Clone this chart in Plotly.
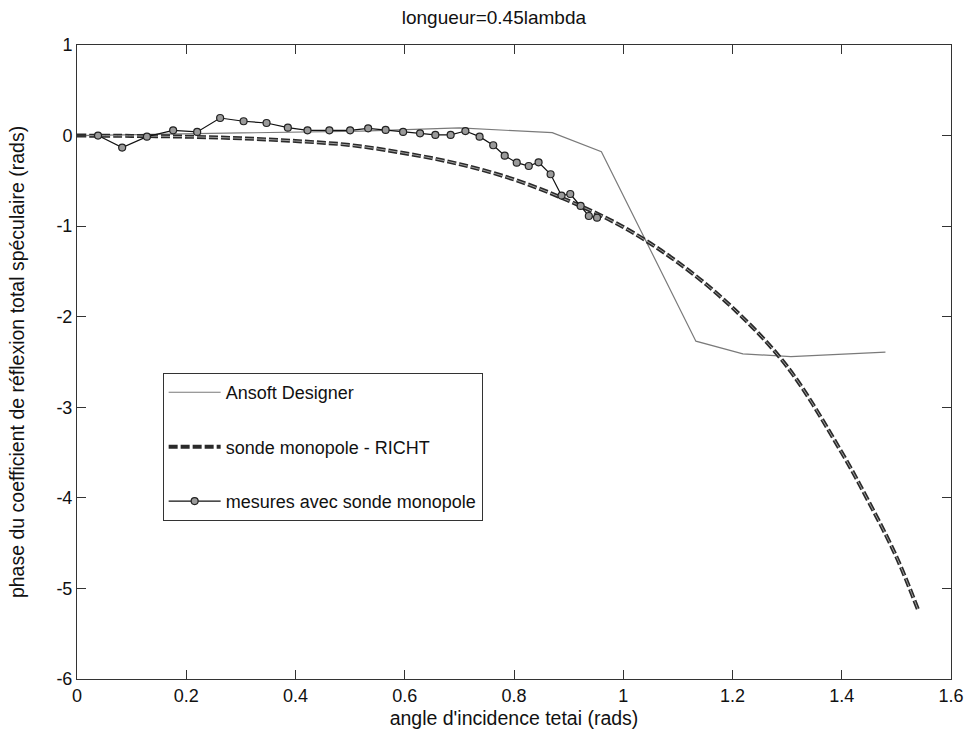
import plotly.graph_objects as go

# Ansoft Designer (thin grey solid)
ansoft_x = [0.0, 0.35, 0.52, 0.70, 0.870, 0.960, 1.133, 1.219, 1.307, 1.480]
ansoft_y = [0.0, 0.03, 0.05, 0.085, 0.032, -0.178, -2.27, -2.41, -2.44, -2.39]

# sonde monopole - RICHT (thick dashed)
richt_x = [0.0, 0.10, 0.20, 0.30, 0.40, 0.50, 0.60, 0.70, 0.80, 0.90, 1.00,
           1.10, 1.20, 1.30, 1.40, 1.45, 1.50, 1.54]
richt_y = [0.0, -0.004, -0.012, -0.030, -0.060, -0.105, -0.195, -0.315, -0.485,
           -0.720, -1.01, -1.40, -1.90, -2.55, -3.50, -4.05, -4.65, -5.24]

# mesures avec sonde monopole (line + circle markers)
meas_x = [0.0385, 0.0827, 0.128, 0.176, 0.220, 0.262, 0.305, 0.347, 0.386, 0.422,
          0.462, 0.500, 0.533, 0.565, 0.597, 0.628, 0.656, 0.684, 0.711, 0.737,
          0.762, 0.783, 0.805, 0.827, 0.845, 0.867, 0.887, 0.903, 0.922, 0.937, 0.952]
meas_y = [0.0, -0.133, -0.012, 0.058, 0.04, 0.194, 0.158, 0.139, 0.087, 0.058,
          0.058, 0.058, 0.08, 0.062, 0.04, 0.025, 0.007, 0.007, 0.05, -0.012,
          -0.107, -0.222, -0.299, -0.336, -0.295, -0.427, -0.663, -0.645, -0.777,
          -0.888, -0.906]

names = ["Ansoft Designer", "sonde monopole - RICHT", "mesures avec sonde monopole"]

FONT = "Liberation Sans, Arial, sans-serif"
INK = "#111111"

fig = go.Figure()
fig.add_trace(go.Scatter(x=ansoft_x, y=ansoft_y, mode="lines", name=names[0],
                         legendgroup="a",
                         line=dict(color="#7a7a7a", width=1.2)))
fig.add_trace(go.Scatter(x=richt_x, y=richt_y, mode="lines", name=names[1],
                         legendgroup="b",
                         line=dict(color="#2a2a2a", width=4, dash="9px,3px", shape="spline")))
fig.add_trace(go.Scatter(x=richt_x, y=richt_y, mode="lines", showlegend=False,
                         legendgroup="b", hoverinfo="skip",
                         line=dict(color="#a0a0a0", width=1, dash="9px,3px", shape="spline")))
fig.add_trace(go.Scatter(x=meas_x, y=meas_y, mode="lines+markers", name=names[2],
                         legendgroup="c",
                         line=dict(color=INK, width=1.2),
                         marker=dict(symbol="circle", size=7, color="#9a9a9a",
                                     line=dict(color="#222222", width=1.2))))

axis_common = dict(
    showline=True, linecolor="#333333", linewidth=1, mirror="ticks",
    ticks="inside", ticklen=9, tickcolor="#333333", tickwidth=1,
    showgrid=False, zeroline=False,
    tickfont=dict(family=FONT, size=18, color=INK),
)

fig.update_layout(
    width=976, height=743,
    margin=dict(l=77, r=22, t=45, b=64),
    paper_bgcolor="white", plot_bgcolor="white",
    title=dict(text="longueur=0.45lambda", xref="paper", x=0.477, xanchor="center",
               yref="container", y=0.977, yanchor="middle",
               font=dict(family=FONT, size=19, color=INK)),
    xaxis=dict(range=[0, 1.6], tickvals=[0, 0.2, 0.4, 0.6, 0.8, 1, 1.2, 1.4, 1.6],
               ticktext=["0", "0.2", "0.4", "0.6", "0.8", "1", "1.2", "1.4", "1.6"],
               title=dict(text="angle d'incidence tetai (rads)", standoff=6,
                          font=dict(family=FONT, size=19.5, color=INK)),
               **axis_common),
    yaxis=dict(range=[-6, 1], tickvals=[-6, -5, -4, -3, -2, -1, 0, 1],
               ticktext=["-6", "-5", "-4", "-3", "-2", "-1", "0", "1"],
               title=dict(text="phase du coefficient de réflexion total spéculaire (rads)",
                          standoff=26,
                          font=dict(family=FONT, size=19.5, color=INK)),
               **axis_common),
    legend=dict(x=0.098, y=0.4826, xanchor="left", yanchor="top",
                bgcolor="white", bordercolor="#333333", borderwidth=1,
                traceorder="grouped", tracegroupgap=28, itemwidth=52,
                font=dict(family=FONT, size=18, color=INK)),
    showlegend=True,
)

fig.write_html("out.html")
